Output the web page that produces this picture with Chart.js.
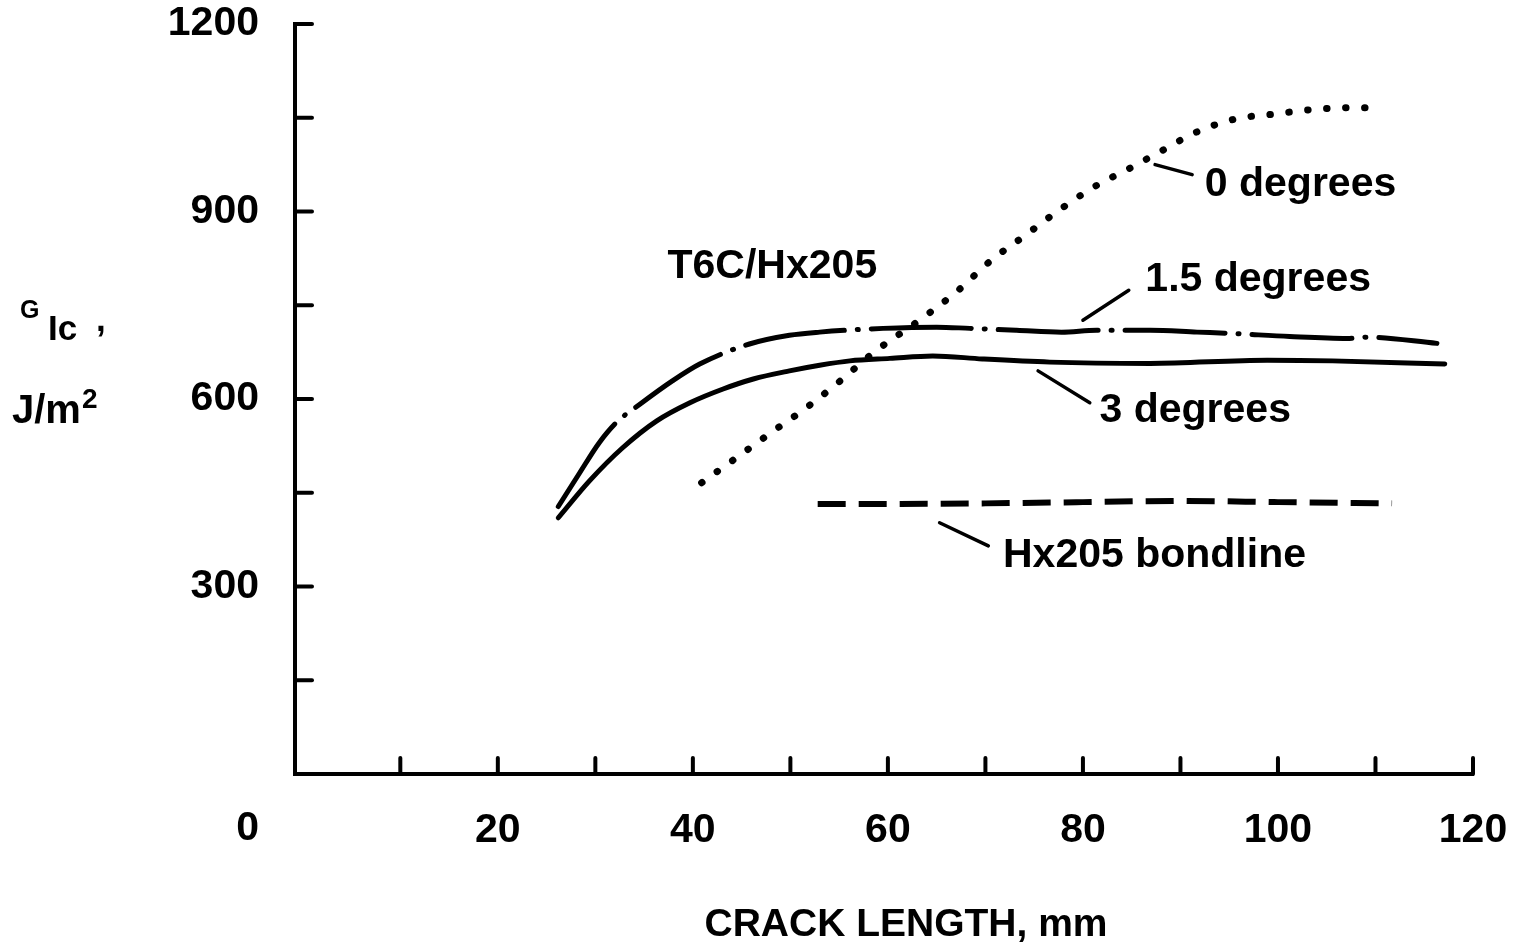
<!DOCTYPE html>
<html><head><meta charset="utf-8">
<script src="https://cdn.jsdelivr.net/npm/chart.js@4"></script>
<style>html,body{margin:0;padding:0;background:#fff}#wrap{width:1518px;height:945px;position:relative}</style>
</head><body><div id="wrap"><canvas id="c" width="1518" height="945"></canvas></div>
<script>
// ---- data ----
const deg0X = [40.9, 45.0, 48.0, 51.2, 54.5, 58.6, 63.5, 67.0, 70.6, 74.1, 77.1, 81.0, 84.9, 88.3, 91.5, 95.6, 99.7, 103.4, 107.5, 109.2];
const deg0Y = [466, 512, 546, 581, 621, 675, 729, 771, 822, 862, 897, 938, 970, 999, 1026, 1048, 1056, 1063, 1066, 1066];

const deg15X = [26.2, 28.4, 30.4, 32.2, 34.6, 37.9, 40.7, 45.8, 49.9, 53.0, 59.5, 65.0, 68.4, 73.2, 77.8, 81.4, 86.9, 91.7, 95.1, 101.2, 107.1, 109.1, 116.3];
const deg15Y = [428, 482, 530, 563, 592, 629, 656, 688, 702, 707, 713, 715, 713, 710, 707, 710, 710, 707, 705, 700, 697, 699, 689];

const deg3X = [26.2, 29.4, 32.8, 36.3, 39.7, 43.1, 46.2, 49.9, 53.0, 56.1, 60.2, 64.6, 69.7, 76.6, 86.9, 98.9, 105.6, 117.1];
const deg3Y = [410, 469, 522, 565, 594, 616, 632, 645, 654, 661, 665, 669, 664, 659, 657, 662, 661, 656];

const bondX = [52.8, 60, 70, 80, 90, 100, 111.7];
const bondY = [432, 432, 433, 435, 437, 435, 433];

const xTickMarks = [10, 20, 30, 40, 50, 60, 70, 80, 90, 100, 110, 120];
const xTickLabels = [20, 40, 60, 80, 100, 120];
const yTickMarks = [150, 300, 450, 600, 750, 900, 1050, 1200];
const yTickLabels = [300, 600, 900, 1200];
const originLabel = "0";

// annotation labels: [text, x, y] and leader lines: [x1, y1, x2, y2] in data units
const labelTexts = ["0 degrees", "1.5 degrees", "3 degrees", "Hx205 bondline", "T6C/Hx205"];
const labelX = [92.5, 86.4, 81.7, 71.8, 37.4];
const labelY = [943, 791, 581, 349, 812];
const leaderX1 = [87.4, 80.0, 75.4, 65.3];
const leaderY1 = [975, 726, 645, 402];
const leaderX2 = [91.2, 84.7, 80.7, 70.3];
const leaderY2 = [959, 774, 594, 365];

const xTitle = "CRACK LENGTH, mm";

const FONT = '"Liberation Sans", Arial, Helvetica, sans-serif';
const toPts = (xs, ys) => xs.map((x, i) => ({x, y: ys[i]}));

const decor = {
  id: 'decor',
  afterDraw(chart) {
    const {ctx, chartArea: a, scales: {x, y}} = chart;
    ctx.save();
    ctx.strokeStyle = '#000';
    ctx.fillStyle = '#000';
    ctx.lineCap = 'round';
    ctx.lineWidth = 4;
    // inner tick marks
    yTickMarks.forEach(v => {
      const py = y.getPixelForValue(v);
      ctx.beginPath(); ctx.moveTo(a.left, py); ctx.lineTo(a.left + 17, py); ctx.stroke();
    });
    xTickMarks.forEach(v => {
      const px = x.getPixelForValue(v);
      ctx.beginPath(); ctx.moveTo(px, a.bottom); ctx.lineTo(px, a.bottom - 16); ctx.stroke();
    });
    // origin label
    ctx.font = 'bold 41px ' + FONT;
    ctx.textAlign = 'right';
    ctx.textBaseline = 'middle';
    ctx.fillText(originLabel, 259, 829);
    // leader lines
    ctx.lineWidth = 3.5;
    leaderX1.forEach((v, i) => {
      ctx.beginPath();
      ctx.moveTo(x.getPixelForValue(v), y.getPixelForValue(leaderY1[i]));
      ctx.lineTo(x.getPixelForValue(leaderX2[i]), y.getPixelForValue(leaderY2[i]));
      ctx.stroke();
    });
    // annotation texts
    ctx.textAlign = 'left';
    ctx.textBaseline = 'middle';
    ctx.font = 'bold 41px ' + FONT;
    labelTexts.forEach((t, i) => {
      ctx.fillText(t, x.getPixelForValue(labelX[i]), y.getPixelForValue(labelY[i]));
    });
    // y axis title: G_Ic ,  J/m^2
    ctx.textBaseline = 'alphabetic';
    ctx.font = 'bold 25px ' + FONT;
    ctx.fillText('G', 20, 318);
    ctx.font = 'bold 35px ' + FONT;
    ctx.fillText('Ic', 48, 340);
    ctx.fillText(',', 96, 331);
    ctx.font = 'bold 40px ' + FONT;
    ctx.fillText('J/m', 12, 423);
    ctx.font = 'bold 28px ' + FONT;
    ctx.fillText('2', 82, 408);
    // x axis title
    ctx.textAlign = 'center';
    ctx.font = 'bold 39px ' + FONT;
    ctx.fillText(xTitle, 906, 936);
    ctx.restore();
  }
};

new Chart(document.getElementById('c'), {
  type: 'line',
  data: {
    datasets: [
      {label: '0 degrees', data: toPts(deg0X, deg0Y), borderColor: '#000', borderWidth: 7,
       borderDash: [0.5, 18.5], borderCapStyle: 'round', pointRadius: 0, cubicInterpolationMode: 'monotone'},
      {label: '1.5 degrees', data: toPts(deg15X, deg15Y), borderColor: '#000', borderWidth: 5,
       borderDash: [100, 13, 1, 13], borderCapStyle: 'round', pointRadius: 0, cubicInterpolationMode: 'monotone'},
      {label: '3 degrees', data: toPts(deg3X, deg3Y), borderColor: '#000', borderWidth: 5,
       borderCapStyle: 'round', pointRadius: 0, cubicInterpolationMode: 'monotone'},
      {label: 'Hx205 bondline', data: toPts(bondX, bondY), borderColor: '#000', borderWidth: 6,
       borderDash: [28, 13], borderCapStyle: 'butt', pointRadius: 0, cubicInterpolationMode: 'monotone'}
    ]
  },
  options: {
    responsive: false,
    animation: false,
    devicePixelRatio: 1,
    layout: {padding: {left: 0, right: 45, top: 24, bottom: 0}},
    plugins: {legend: {display: false}, tooltip: {enabled: false}},
    scales: {
      x: {
        type: 'linear', min: -0.8, max: 120,
        afterFit: s => { s.height = 171; s.paddingLeft = 0; s.paddingRight = 0; },
        afterBuildTicks: s => { s.ticks = xTickLabels.map(v => ({value: v})); },
        grid: {display: true, drawOnChartArea: false, drawTicks: false},
        border: {display: true, color: '#000', width: 4},
        ticks: {color: '#000', padding: 32, maxRotation: 0, autoSkip: false,
                callback: v => String(v),
                font: {family: FONT, size: 41, weight: 'bold'}}
      },
      y: {
        type: 'linear', min: 0, max: 1200,
        afterFit: s => { s.width = 295; s.paddingTop = 0; s.paddingBottom = 0; },
        afterBuildTicks: s => { s.ticks = yTickLabels.map(v => ({value: v})); },
        grid: {display: true, drawOnChartArea: false, drawTicks: false},
        border: {display: true, color: '#000', width: 4},
        ticks: {color: '#000', padding: 36, autoSkip: false,
                callback: v => String(v),
                font: {family: FONT, size: 41, weight: 'bold'}}
      }
    }
  },
  plugins: [decor]
});
</script>
</body></html>
